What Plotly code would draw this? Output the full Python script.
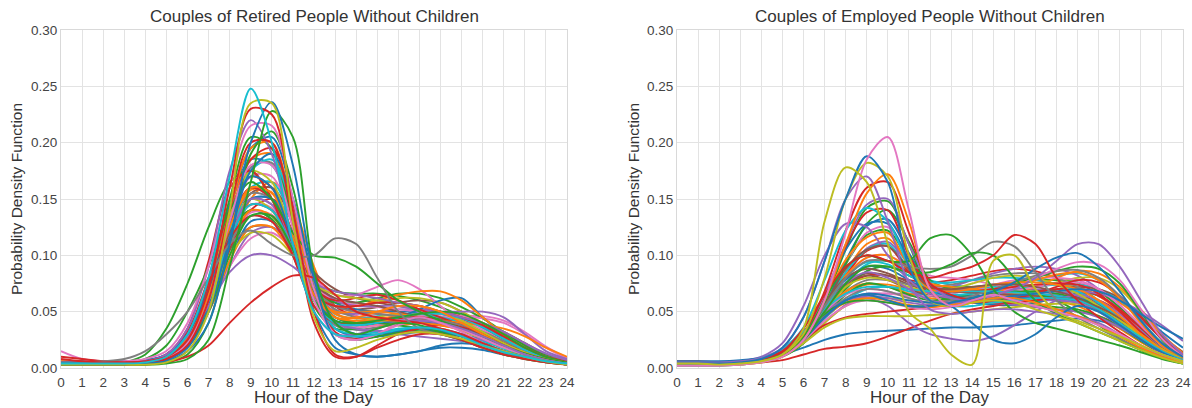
import plotly.graph_objects as go

hours = list(range(25))
hour_labels = [str(h) for h in hours]
y_ticks = [0.0, 0.05, 0.10, 0.15, 0.20, 0.25, 0.30]
y_tick_labels = ["0.00", "0.05", "0.10", "0.15", "0.20", "0.25", "0.30"]

titles = ["Couples of Retired People Without Children", "Couples of Employed People Without Children"]
x_title = "Hour of the Day"
y_title = "Probability Density Function"

# ---- Retired couples: PDF value at each hour 0..24 ----
retired_curves = [
    [.004,.004,.004,.004,.005,.011,.030,.078,.145,.185,.180,.135,.075,.045,.040,.042,.046,.050,.050,.046,.038,.027,.017,.009,.005],
    [.003,.003,.003,.003,.004,.008,.020,.052,.105,.150,.165,.145,.090,.050,.040,.038,.038,.040,.042,.042,.038,.030,.020,.011,.005],
    [.005,.005,.005,.005,.006,.012,.030,.070,.120,.140,.132,.105,.078,.068,.066,.066,.064,.060,.054,.046,.036,.025,.016,.009,.005],
    [.004,.004,.004,.004,.005,.009,.022,.055,.105,.140,.150,.130,.085,.055,.046,.044,.044,.044,.044,.042,.038,.032,.022,.012,.006],
    [.006,.006,.006,.006,.007,.012,.030,.072,.128,.160,.150,.110,.062,.040,.034,.032,.030,.028,.026,.024,.022,.020,.016,.011,.007],
    [.003,.003,.003,.003,.004,.008,.022,.058,.115,.155,.160,.130,.080,.055,.052,.054,.058,.060,.058,.050,.038,.026,.016,.009,.005],
    [.004,.004,.004,.004,.005,.010,.026,.064,.118,.145,.142,.112,.072,.052,.046,.044,.042,.042,.044,.046,.046,.042,.032,.019,.009],
    [.003,.003,.003,.003,.004,.008,.020,.058,.125,.178,.182,.135,.068,.038,.034,.036,.040,.044,.044,.040,.032,.022,.014,.008,.004],
    [.004,.004,.004,.004,.005,.010,.028,.075,.150,.205,.195,.125,.055,.035,.035,.040,.045,.046,.043,.036,.028,.019,.012,.007,.004],
    [.003,.003,.003,.003,.004,.009,.026,.070,.140,.185,.190,.140,.070,.040,.036,.038,.040,.040,.038,.034,.028,.020,.013,.008,.004],
    [.005,.005,.005,.005,.006,.012,.032,.080,.140,.170,.160,.120,.075,.055,.050,.048,.046,.044,.040,.036,.030,.022,.014,.008,.005],
    [.004,.004,.004,.004,.005,.010,.026,.065,.120,.150,.150,.120,.080,.058,.052,.050,.050,.050,.048,.044,.036,.026,.016,.009,.005],
    [.003,.003,.003,.003,.004,.008,.022,.060,.125,.170,.170,.125,.065,.040,.036,.038,.042,.046,.046,.042,.034,.024,.015,.008,.004],
    [.004,.004,.004,.004,.005,.010,.028,.070,.125,.150,.140,.105,.068,.055,.055,.058,.062,.062,.058,.050,.040,.028,.017,.009,.005],
    [.005,.005,.005,.005,.006,.012,.030,.065,.105,.125,.125,.110,.085,.070,.062,.058,.055,.052,.048,.044,.038,.030,.020,.011,.006],
    [.003,.003,.003,.003,.004,.008,.020,.055,.115,.160,.165,.130,.075,.048,.044,.046,.048,.048,.045,.040,.032,.022,.014,.008,.004],
    [.004,.004,.004,.004,.005,.010,.025,.062,.118,.150,.145,.110,.068,.050,.048,.050,.052,.052,.050,.046,.040,.031,.020,.011,.006],
    [.003,.003,.003,.003,.004,.008,.022,.062,.130,.185,.195,.145,.068,.032,.026,.028,.032,.036,.038,.036,.030,.022,.014,.008,.004],
    [.005,.005,.005,.005,.006,.012,.030,.072,.128,.155,.150,.115,.072,.052,.045,.042,.040,.040,.040,.040,.038,.032,.022,.012,.006],
    [.004,.004,.004,.004,.005,.010,.026,.066,.124,.158,.156,.118,.070,.048,.044,.044,.046,.048,.048,.046,.040,.030,.019,.010,.005],
    [.003,.003,.003,.003,.004,.009,.025,.068,.140,.195,.205,.150,.070,.035,.028,.028,.030,.032,.032,.030,.025,.018,.012,.007,.004],
    [.004,.004,.004,.004,.005,.010,.027,.068,.120,.140,.132,.100,.068,.058,.058,.062,.066,.066,.062,.054,.044,.032,.020,.011,.006],
    [.004,.004,.004,.004,.005,.010,.025,.060,.110,.138,.136,.108,.074,.060,.056,.054,.052,.050,.048,.046,.044,.040,.030,.018,.008],
    [.004,.004,.004,.004,.005,.008,.020,.050,.090,.120,.125,.110,.080,.060,.055,.055,.055,.052,.050,.050,.050,.045,.030,.015,.008],
    [.003,.003,.003,.003,.004,.008,.020,.050,.090,.115,.120,.105,.080,.065,.065,.072,.078,.070,.055,.040,.028,.018,.012,.007,.004],
    [.004,.004,.004,.004,.005,.008,.020,.050,.095,.130,.130,.100,.065,.045,.040,.040,.045,.052,.060,.062,.045,.030,.018,.010,.005],
    [.004,.004,.004,.004,.005,.010,.025,.060,.110,.140,.135,.105,.070,.055,.055,.060,.065,.068,.068,.060,.045,.030,.018,.010,.006],
    [.003,.003,.003,.005,.012,.035,.075,.125,.165,.175,.150,.100,.060,.045,.040,.040,.038,.035,.030,.025,.020,.015,.010,.006,.004],
    [.004,.004,.004,.004,.005,.010,.030,.075,.130,.160,.150,.110,.070,.060,.062,.065,.060,.052,.045,.038,.030,.022,.014,.008,.005],
    [.003,.003,.003,.003,.004,.008,.022,.060,.120,.175,.185,.140,.070,.035,.030,.032,.035,.036,.035,.030,.024,.017,.011,.007,.004],
    [.004,.004,.004,.004,.005,.010,.028,.070,.135,.175,.165,.115,.060,.040,.040,.045,.048,.045,.040,.033,.026,.018,.012,.007,.004],
    [.005,.005,.005,.005,.006,.012,.030,.070,.120,.145,.140,.110,.075,.062,.058,.055,.050,.045,.040,.035,.030,.022,.015,.009,.005],
    [.006,.006,.006,.006,.007,.010,.022,.050,.095,.125,.125,.100,.065,.050,.050,.050,.048,.045,.042,.040,.038,.035,.028,.018,.010],
    [.003,.003,.003,.003,.004,.008,.020,.055,.110,.150,.150,.115,.065,.042,.038,.040,.042,.042,.040,.035,.028,.020,.013,.008,.004],
    [.004,.004,.004,.004,.005,.010,.025,.060,.115,.150,.145,.105,.060,.040,.035,.033,.033,.032,.030,.028,.025,.020,.014,.009,.005],
    [.005,.005,.005,.005,.006,.012,.035,.095,.160,.175,.150,.100,.055,.040,.040,.042,.045,.045,.042,.038,.030,.022,.014,.008,.005],
    [.004,.004,.004,.004,.005,.010,.025,.060,.110,.135,.130,.105,.070,.055,.050,.048,.046,.044,.042,.038,.032,.024,.016,.010,.006],
    [.004,.004,.004,.004,.005,.010,.025,.060,.100,.120,.118,.100,.075,.065,.062,.060,.058,.055,.050,.042,.032,.022,.014,.008,.005],
    [.004,.004,.004,.004,.005,.009,.024,.060,.115,.145,.140,.105,.060,.040,.038,.040,.045,.048,.048,.044,.036,.026,.016,.009,.005],
    [.005,.005,.005,.005,.006,.012,.030,.070,.115,.135,.130,.100,.065,.055,.055,.058,.058,.055,.050,.045,.038,.028,.018,.010,.006],
    [.004,.004,.004,.004,.005,.010,.026,.065,.125,.160,.155,.115,.065,.045,.042,.042,.042,.040,.038,.034,.028,.020,.013,.008,.004],
    [.005,.005,.005,.005,.006,.012,.028,.055,.085,.100,.100,.090,.075,.068,.065,.062,.058,.055,.050,.045,.040,.032,.022,.013,.007],
    [.003,.003,.003,.003,.004,.008,.020,.050,.100,.135,.135,.105,.060,.042,.040,.042,.045,.048,.050,.048,.040,.030,.018,.010,.005],
    [.004,.004,.004,.004,.005,.010,.025,.065,.140,.195,.200,.140,.070,.045,.045,.050,.055,.055,.050,.040,.030,.020,.013,.008,.005],
    [.003,.003,.003,.004,.008,.020,.050,.090,.140,.165,.150,.120,.100,.098,.090,.075,.060,.050,.042,.035,.028,.020,.013,.008,.005],
    [.005,.006,.006,.006,.007,.012,.030,.070,.130,.170,.160,.110,.050,.018,.012,.010,.012,.015,.018,.018,.016,.012,.009,.006,.004],
    [.003,.003,.003,.003,.003,.005,.012,.040,.110,.190,.210,.160,.070,.030,.025,.028,.032,.034,.032,.028,.022,.015,.010,.006,.003],
    [.003,.003,.003,.003,.004,.008,.022,.060,.130,.180,.180,.125,.060,.030,.025,.030,.038,.042,.040,.034,.026,.018,.012,.007,.004],
    [.003,.003,.003,.003,.004,.007,.018,.050,.115,.175,.190,.150,.080,.040,.030,.030,.033,.035,.033,.028,.022,.015,.010,.006,.003],
    [.005,.005,.005,.005,.006,.012,.035,.090,.175,.220,.190,.110,.050,.030,.030,.035,.040,.042,.040,.035,.028,.020,.012,.007,.004],
    [.015,.008,.006,.006,.008,.015,.040,.090,.160,.215,.215,.150,.070,.030,.025,.030,.040,.045,.040,.032,.022,.015,.010,.006,.004],
    [.010,.008,.006,.005,.005,.008,.020,.060,.140,.200,.200,.130,.040,.010,.010,.020,.030,.035,.035,.030,.022,.015,.010,.006,.003],
    [.003,.003,.003,.003,.003,.005,.010,.020,.040,.058,.072,.082,.080,.065,.050,.045,.042,.040,.035,.028,.020,.014,.009,.005,.003],
    [.005,.005,.006,.008,.015,.030,.050,.080,.110,.122,.110,.100,.100,.115,.110,.080,.050,.035,.030,.025,.018,.012,.008,.005,.003],
    [.003,.003,.003,.003,.003,.004,.008,.025,.090,.165,.228,.205,.085,.040,.030,.035,.040,.038,.032,.025,.018,.012,.008,.005,.003],
    [.004,.004,.004,.004,.004,.006,.015,.040,.110,.200,.236,.180,.080,.025,.012,.010,.012,.015,.020,.022,.020,.015,.010,.006,.004],
    [.008,.006,.005,.005,.006,.010,.025,.070,.160,.230,.225,.140,.050,.012,.010,.018,.025,.030,.030,.025,.018,.012,.008,.005,.003],
    [.003,.003,.003,.003,.003,.005,.015,.050,.140,.235,.235,.130,.045,.015,.018,.025,.030,.032,.030,.026,.020,.015,.010,.006,.003],
    [.004,.004,.004,.004,.005,.010,.030,.080,.170,.248,.200,.110,.050,.030,.028,.030,.034,.036,.034,.028,.020,.014,.010,.006,.004],
]
retired_colors = ["blue","orange","green","red","purple","brown","pink","gray",
                  "green","orange","red","blue","pink","olive","brown","cyan","purple","red",
                  "gray","orange","blue","green","pink",
                  "purple","pink","blue","orange","green","red","cyan","olive","brown","orange",
                  "blue","purple","red","gray","olive","cyan","red","orange","purple","green",
                  "orange","green","blue","green","pink","blue","purple","pink","red","red",
                  "gray","green","blue","red","olive","cyan"]

# ---- Employed couples: PDF value at each hour 0..24 ----
employed_curves = [
    [.004,.004,.004,.005,.008,.014,.028,.050,.072,.082,.082,.078,.076,.078,.082,.086,.088,.086,.080,.070,.056,.040,.026,.014,.007],
    [.003,.003,.003,.004,.006,.012,.025,.048,.075,.092,.095,.086,.078,.074,.072,.072,.074,.078,.082,.084,.078,.062,.042,.022,.009],
    [.005,.005,.005,.006,.009,.016,.030,.050,.066,.074,.074,.070,.066,.062,.058,.056,.056,.058,.062,.066,.066,.058,.044,.028,.014],
    [.003,.003,.003,.004,.006,.012,.026,.055,.092,.118,.122,.096,.074,.066,.062,.060,.060,.062,.066,.068,.064,.052,.036,.019,.008],
    [.004,.004,.004,.005,.008,.015,.030,.054,.074,.084,.082,.074,.068,.064,.060,.058,.056,.054,.052,.050,.046,.038,.028,.016,.008],
    [.003,.003,.003,.004,.006,.011,.022,.040,.056,.064,.066,.066,.068,.072,.078,.084,.088,.090,.088,.082,.070,.052,.034,.018,.008],
    [.004,.004,.004,.005,.008,.014,.028,.052,.080,.098,.100,.090,.082,.080,.078,.074,.070,.066,.064,.062,.056,.044,.030,.016,.007],
    [.005,.005,.005,.006,.009,.016,.032,.056,.078,.090,.088,.078,.068,.062,.058,.056,.056,.058,.062,.066,.066,.060,.048,.032,.018],
    [.005,.005,.005,.006,.008,.012,.018,.025,.030,.032,.033,.034,.035,.036,.036,.037,.038,.040,.042,.044,.042,.036,.026,.016,.008],
    [.004,.004,.004,.004,.005,.007,.012,.017,.019,.022,.028,.035,.042,.048,.052,.055,.058,.060,.062,.063,.060,.050,.036,.022,.012],
    [.003,.003,.003,.004,.007,.013,.024,.048,.085,.110,.115,.092,.072,.068,.068,.070,.072,.074,.074,.072,.064,.050,.032,.017,.008],
    [.004,.004,.004,.005,.008,.014,.026,.046,.070,.086,.090,.082,.074,.072,.072,.074,.076,.078,.078,.076,.068,.054,.036,.019,.008],
    [.005,.005,.005,.006,.009,.015,.028,.044,.060,.070,.072,.068,.064,.064,.066,.068,.070,.072,.074,.074,.070,.060,.044,.026,.012],
    [.003,.003,.003,.004,.006,.011,.022,.045,.080,.106,.112,.092,.074,.070,.070,.070,.070,.070,.068,.064,.056,.043,.028,.015,.007],
    [.004,.004,.004,.005,.008,.014,.026,.052,.092,.120,.125,.098,.074,.070,.068,.066,.064,.062,.060,.058,.052,.040,.026,.014,.006],
    [.003,.003,.003,.004,.006,.011,.022,.040,.055,.062,.062,.060,.058,.058,.060,.064,.068,.072,.076,.080,.080,.070,.050,.028,.012],
    [.004,.004,.004,.005,.008,.015,.030,.055,.075,.082,.078,.070,.064,.062,.062,.064,.066,.068,.070,.072,.070,.062,.046,.028,.014],
    [.003,.003,.003,.004,.007,.012,.025,.048,.082,.104,.108,.085,.066,.062,.062,.064,.066,.068,.070,.070,.064,.052,.036,.020,.009],
    [.004,.004,.004,.005,.008,.015,.028,.055,.095,.126,.132,.102,.074,.066,.064,.064,.064,.064,.064,.062,.056,.044,.030,.016,.007],
    [.003,.003,.003,.004,.006,.012,.026,.048,.068,.078,.078,.074,.072,.074,.078,.082,.084,.084,.080,.072,.060,.045,.030,.016,.007],
    [.004,.004,.004,.005,.008,.014,.028,.050,.068,.075,.072,.066,.062,.060,.060,.062,.066,.072,.080,.086,.084,.072,.052,.030,.013],
    [.005,.005,.005,.006,.009,.016,.030,.048,.060,.064,.062,.058,.056,.056,.058,.060,.062,.064,.066,.068,.066,.060,.050,.038,.024],
    [.003,.003,.003,.004,.006,.011,.025,.052,.092,.128,.140,.112,.078,.070,.068,.068,.068,.068,.066,.062,.054,.042,.028,.015,.007],
    [.004,.004,.004,.005,.007,.013,.026,.045,.060,.066,.066,.064,.064,.066,.070,.074,.078,.080,.080,.078,.070,.056,.038,.020,.009],
    [.003,.003,.003,.004,.006,.012,.026,.052,.080,.094,.092,.082,.076,.076,.078,.080,.080,.078,.074,.068,.058,.044,.029,.015,.007],
    [.002,.002,.002,.003,.005,.010,.022,.045,.065,.075,.072,.065,.060,.062,.066,.070,.075,.080,.086,.090,.088,.075,.050,.025,.008],
    [.004,.004,.004,.005,.008,.015,.030,.055,.082,.098,.100,.088,.075,.072,.070,.068,.066,.064,.060,.055,.046,.035,.023,.013,.006],
    [.004,.004,.004,.005,.008,.015,.030,.050,.060,.062,.055,.040,.030,.026,.024,.028,.038,.050,.060,.065,.060,.048,.032,.018,.008],
    [.003,.003,.003,.004,.007,.013,.028,.050,.065,.070,.068,.062,.058,.058,.060,.064,.068,.072,.075,.076,.070,.056,.038,.020,.009],
    [.003,.003,.003,.004,.007,.013,.028,.055,.085,.105,.110,.088,.068,.065,.066,.068,.068,.066,.063,.058,.050,.038,.025,.013,.006],
    [.003,.003,.003,.004,.006,.012,.026,.050,.072,.080,.078,.072,.068,.070,.075,.080,.082,.080,.074,.066,.055,.042,.028,.015,.007],
    [.004,.004,.004,.005,.008,.015,.032,.058,.080,.088,.084,.076,.070,.068,.067,.066,.065,.064,.063,.060,.054,.044,.030,.017,.008],
    [.003,.003,.003,.004,.006,.011,.024,.058,.105,.142,.148,.110,.068,.060,.060,.060,.058,.056,.054,.052,.046,.036,.024,.013,.006],
    [.006,.006,.005,.006,.008,.014,.025,.038,.045,.048,.050,.052,.054,.056,.058,.060,.062,.066,.072,.078,.076,.064,.045,.026,.012],
    [.004,.004,.004,.005,.008,.015,.030,.066,.105,.128,.128,.096,.070,.064,.062,.062,.062,.062,.062,.060,.052,.040,.026,.014,.006],
    [.004,.004,.004,.005,.007,.013,.026,.045,.058,.062,.060,.056,.054,.056,.060,.066,.072,.078,.083,.085,.078,.062,.040,.020,.008],
    [.005,.005,.005,.006,.010,.022,.055,.100,.128,.125,.100,.078,.066,.062,.060,.058,.056,.054,.052,.050,.045,.036,.025,.014,.007],
    [.003,.003,.003,.004,.006,.011,.024,.045,.062,.070,.068,.062,.058,.060,.064,.070,.076,.082,.086,.087,.080,.064,.042,.022,.009],
    [.003,.003,.003,.004,.006,.011,.024,.042,.055,.060,.058,.054,.052,.054,.058,.064,.072,.080,.088,.094,.092,.078,.052,.026,.010],
    [.004,.004,.004,.005,.008,.015,.030,.048,.058,.060,.058,.055,.055,.058,.062,.066,.068,.066,.060,.050,.038,.026,.016,.009,.004],
    [.004,.004,.004,.005,.008,.015,.030,.062,.108,.138,.140,.100,.072,.068,.068,.070,.072,.074,.075,.074,.066,.050,.032,.017,.008],
    [.004,.004,.004,.005,.008,.016,.032,.052,.066,.072,.072,.070,.068,.068,.068,.068,.067,.066,.064,.060,.052,.040,.027,.015,.007],
    [.003,.003,.003,.004,.006,.011,.022,.036,.044,.046,.046,.046,.047,.048,.050,.052,.054,.056,.057,.057,.052,.042,.030,.017,.008],
    [.004,.004,.004,.005,.008,.014,.028,.060,.096,.116,.120,.090,.070,.068,.070,.074,.076,.076,.074,.070,.060,.046,.030,.016,.007],
    [.006,.006,.006,.007,.009,.014,.026,.045,.060,.066,.064,.060,.058,.058,.060,.062,.064,.066,.068,.070,.068,.060,.048,.036,.026],
    [.003,.003,.003,.004,.006,.012,.028,.065,.110,.145,.150,.110,.075,.062,.060,.060,.060,.060,.060,.058,.050,.038,.025,.013,.006],
    [.004,.004,.004,.005,.008,.014,.028,.055,.088,.105,.108,.088,.072,.070,.072,.074,.074,.072,.068,.062,.052,.040,.026,.014,.006],
    [.004,.004,.004,.005,.008,.014,.030,.068,.122,.160,.165,.120,.075,.065,.060,.058,.058,.060,.062,.060,.052,.040,.026,.014,.007],
    [.004,.004,.004,.005,.009,.017,.036,.078,.122,.142,.130,.090,.060,.055,.055,.058,.060,.062,.062,.060,.052,.040,.027,.015,.007],
    [.003,.003,.003,.004,.006,.012,.025,.050,.075,.085,.080,.070,.060,.058,.060,.065,.070,.080,.095,.110,.110,.090,.060,.030,.012],
    [.003,.003,.003,.004,.006,.012,.025,.045,.060,.065,.060,.055,.055,.058,.062,.068,.076,.088,.098,.102,.090,.068,.042,.022,.010],
    [.003,.003,.003,.004,.006,.012,.028,.055,.080,.095,.095,.090,.088,.090,.100,.112,.108,.085,.060,.045,.035,.026,.017,.010,.005],
    [.003,.003,.003,.004,.006,.012,.025,.050,.075,.090,.090,.085,.085,.092,.102,.100,.080,.060,.048,.040,.032,.024,.016,.009,.004],
    [.003,.003,.003,.004,.006,.012,.028,.060,.090,.100,.095,.095,.115,.118,.100,.070,.050,.040,.035,.030,.025,.020,.014,.008,.004],
    [.004,.004,.004,.005,.008,.015,.035,.065,.090,.100,.095,.085,.080,.085,.090,.100,.118,.110,.080,.060,.045,.032,.020,.011,.005],
    [.005,.005,.005,.006,.009,.018,.045,.095,.150,.170,.130,.075,.052,.048,.050,.052,.052,.050,.048,.046,.040,.030,.020,.011,.006],
    [.003,.003,.003,.003,.005,.010,.025,.060,.110,.155,.172,.130,.070,.055,.058,.062,.062,.058,.052,.046,.038,.028,.018,.010,.005],
    [.003,.003,.003,.004,.006,.012,.030,.080,.150,.182,.170,.100,.060,.055,.058,.060,.058,.052,.046,.040,.032,.024,.016,.009,.004],
    [.004,.004,.004,.005,.008,.018,.045,.095,.150,.188,.165,.090,.060,.055,.040,.025,.022,.030,.045,.055,.050,.038,.025,.014,.006],
    [.002,.002,.002,.003,.005,.010,.025,.060,.120,.185,.205,.140,.070,.055,.060,.065,.060,.055,.050,.045,.038,.030,.020,.012,.006],
    [.004,.004,.003,.004,.006,.012,.035,.130,.178,.165,.110,.050,.035,.012,.003,.095,.100,.070,.050,.042,.035,.028,.020,.012,.006],
]
employed_colors = ["red","cyan","orange","green","brown","purple","pink","blue",
                   "blue","red","orange","green","cyan","purple","pink","olive","brown","red",
                   "blue","gray","orange","purple","green","pink","cyan",
                   "green","orange","purple","pink","cyan","olive","brown","green",
                   "red","blue","orange","purple","gray","pink","green","red","cyan","olive",
                   "orange","blue","purple","brown","red","cyan","purple","blue","gray","green",
                   "green","red","purple","orange","olive","blue","pink","olive"]

palette = {"blue": "#1f77b4", "orange": "#ff7f0e", "green": "#2ca02c", "red": "#d62728",
           "purple": "#9467bd", "brown": "#8c564b", "pink": "#e377c2", "gray": "#7f7f7f",
           "olive": "#bcbd22", "cyan": "#17becf"}

fig = go.Figure()
for panel, (curves, colors) in enumerate([(retired_curves, retired_colors), (employed_curves, employed_colors)]):
    xa = "x" if panel == 0 else "x2"
    ya = "y" if panel == 0 else "y2"
    for vals, c in zip(curves, colors):
        fig.add_trace(go.Scatter(x=hours, y=vals, mode="lines", xaxis=xa, yaxis=ya,
                                 line=dict(color=palette[c], width=1.9, shape="spline", smoothing=0.9),
                                 showlegend=False, hoverinfo="skip"))

W, H = 1192, 408
left_dom = [61 / W, 567 / W]
right_dom = [677 / W, 1183 / W]
y_dom = [1 - 368 / H, 1 - 30 / H]

axis_common = dict(gridcolor="#e3e3e3", gridwidth=1, showline=True, linecolor="#d9d9d9", linewidth=1,
                   mirror=True, zeroline=False, ticks="", automargin=False,
                   tickfont=dict(size=13.5, color="#444444"))
xcommon = dict(axis_common, range=[0, 24], tickvals=hours, ticktext=hour_labels, ticklabelstandoff=2)
ycommon = dict(axis_common, range=[0, 0.30], tickvals=y_ticks, ticktext=y_tick_labels)

txt = "#333333"
ann = []
for i, dom in enumerate([left_dom, right_dom]):
    cx = (dom[0] + dom[1]) / 2
    ann.append(dict(text=titles[i], x=cx, y=1 - 17 / H, xref="paper", yref="paper", showarrow=False,
                    font=dict(size=17, color=txt), xanchor="center", yanchor="middle"))
    ann.append(dict(text=x_title, x=cx, y=1 - 397 / H, xref="paper", yref="paper", showarrow=False,
                    font=dict(size=17, color=txt), xanchor="center", yanchor="middle"))
    ann.append(dict(text=y_title, x=(16 if i == 0 else 633) / W, y=(y_dom[0] + y_dom[1]) / 2,
                    xref="paper", yref="paper", showarrow=False, textangle=-90,
                    font=dict(size=15.5, color=txt), xanchor="center", yanchor="middle"))

fig.update_layout(
    width=W, height=H, margin=dict(l=0, r=0, t=0, b=0, autoexpand=False),
    paper_bgcolor="white", plot_bgcolor="white",
    font=dict(family="Liberation Sans, Arial, sans-serif", color=txt),
    xaxis=dict(xcommon, domain=left_dom, anchor="y"),
    yaxis=dict(ycommon, domain=y_dom, anchor="x"),
    xaxis2=dict(xcommon, domain=right_dom, anchor="y2"),
    yaxis2=dict(ycommon, domain=y_dom, anchor="x2"),
    annotations=ann,
)

fig.write_html("out.html", config={"displayModeBar": False},
               post_script="document.body.style.margin='0';")
